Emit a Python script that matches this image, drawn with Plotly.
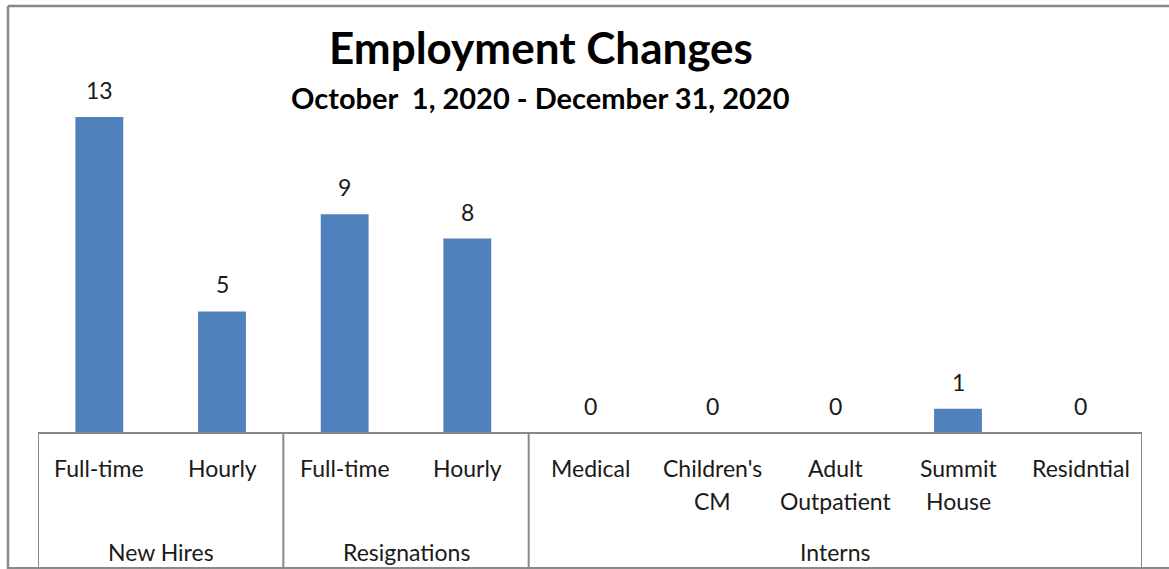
import plotly.graph_objects as go

groups = ["New Hires", "Resignations", "Interns"]
group_sizes = [2, 2, 5]
sub_labels = ["Full-time", "Hourly", "Full-time", "Hourly", "Medical",
              "Children's<br>CM", "Adult<br>Outpatient", "Summit<br>House", "Residntial"]
values = [13, 5, 9, 8, 0, 0, 0, 1, 0]
title = "Employment Changes"
subtitle = "October  1, 2020 - December 31, 2020"

W, H = 1169, 569
L, R, T, B = 38, 1142, 117, 433
pw, ph = R - L, B - T

def py(pix):
    return (B - pix) / ph

def px(pix):
    return (pix - L) / pw

FONT = "Lato"
GRAY = "#898989"
BAR = "#4F81BD"
TXT = "#1a1a1a"
LS = 23
n = len(values)
xs = list(range(n))

fig = go.Figure()
fig.add_trace(go.Bar(x=xs, y=values, marker=dict(color=BAR, line=dict(width=0)),
                     width=0.39, hoverinfo="skip"))

ann = []
for i, v in enumerate(values):
    ann.append(dict(x=i, y=v, xref="x", yref="y", text=str(v), showarrow=False,
                    yanchor="middle", yshift=27, font=dict(size=LS, color=TXT, family=FONT)))
for i, lab in enumerate(sub_labels):
    for k, line in enumerate(lab.split("<br>")):
        ann.append(dict(x=i, y=py(468 + 33 * k), xref="x", yref="paper", text=line, showarrow=False,
                        yanchor="middle", font=dict(size=LS, color=TXT, family=FONT)))
start = 0
shapes = []
bounds = [start - 0.5]
for g, s in zip(groups, group_sizes):
    c = start + (s - 1) / 2
    ann.append(dict(x=c, y=py(552), xref="x", yref="paper", text=g, showarrow=False,
                    yanchor="middle", font=dict(size=LS, color=TXT, family=FONT)))
    start += s
    bounds.append(start - 0.5)
for b in bounds:
    shapes.append(dict(type="line", xref="x", yref="paper", x0=b, x1=b, y0=0, y1=py(569),
                       line=dict(color=GRAY, width=2)))
shapes.append(dict(type="line", xref="x", yref="paper", x0=-0.5, x1=n - 0.5, y0=0, y1=0,
                   line=dict(color=GRAY, width=2)))
# outer chart border
shapes.append(dict(type="line", xref="paper", yref="paper", x0=px(8), x1=px(1175), y0=py(6), y1=py(6),
                   line=dict(color=GRAY, width=2.5)))
shapes.append(dict(type="line", xref="paper", yref="paper", x0=px(8), x1=px(8), y0=py(6), y1=py(575),
                   line=dict(color=GRAY, width=2.5)))
shapes.append(dict(type="line", xref="paper", yref="paper", x0=px(8), x1=px(1175), y0=py(568), y1=py(568),
                   line=dict(color=GRAY, width=2)))

ann.append(dict(x=px(541), y=py(47), xref="paper", yref="paper", text="<b>%s</b>" % title,
                showarrow=False, yanchor="middle", font=dict(size=44, color="#000000", family=FONT)))
ann.append(dict(x=px(540), y=py(97), xref="paper", yref="paper", text="<b>%s</b>" % subtitle,
                showarrow=False, yanchor="middle", font=dict(size=29, color="#000000", family=FONT)))

fig.update_layout(
    width=W, height=H, margin=dict(l=L, r=W - R, t=T, b=H - B),
    paper_bgcolor="white", plot_bgcolor="white", showlegend=False,
    xaxis=dict(range=[-0.5, n - 0.5], showticklabels=False, showgrid=False, zeroline=False, showline=False),
    yaxis=dict(range=[0, 13], showticklabels=False, showgrid=False, zeroline=False, showline=False),
    annotations=ann, shapes=shapes,
)
fig.write_html("out.html")
